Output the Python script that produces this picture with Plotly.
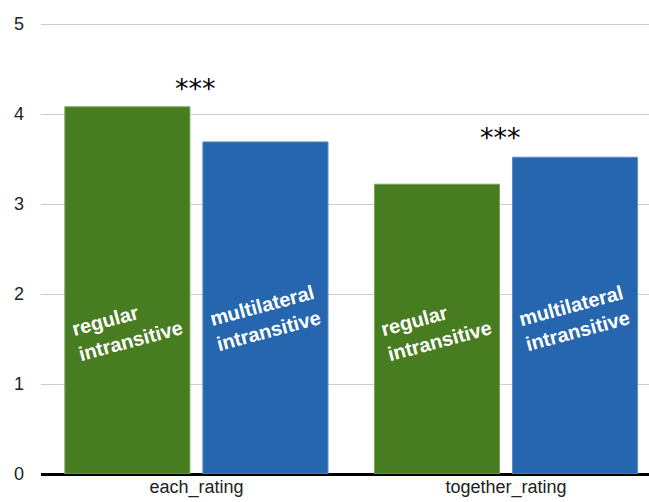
import plotly.graph_objects as go

categories = ["each_rating", "together_rating"]
regular_values = [4.08, 3.22]
multilateral_values = [3.69, 3.52]
series_labels = ["regular<br>intransitive", "multilateral<br>intransitive"]
label_y = [1.62, 1.73]
significance = ["***", "***"]
sig_y = [4.28, 3.74]
y_ticks = [0, 1, 2, 3, 4, 5]

green = "#487c20"
blue = "#2566ae"
FONT = "Liberation Sans, Arial"

fig = go.Figure()
fig.add_trace(go.Bar(x=categories, y=regular_values,
                     marker=dict(color=green, line=dict(color="#7fa25f", width=1)), offsetgroup=0))
fig.add_trace(go.Bar(x=categories, y=multilateral_values,
                     marker=dict(color=blue, line=dict(color="#5d8cc4", width=1)), offsetgroup=1))

annotations = []
for i, c in enumerate(categories):
    for j, lab in enumerate(series_labels):
        annotations.append(dict(
            x=c, y=label_y[j], xref="x", yref="y",
            xshift=-69 if j == 0 else 69,
            text="<b>" + lab + "</b>", showarrow=False, textangle=-15,
            font=dict(family=FONT, size=20, color="white"),
            align="left"))
    annotations.append(dict(
        x=c, y=sig_y[i], xref="x", yref="y", text=significance[i], showarrow=False,
        xshift=-1 if i == 0 else -5,
        font=dict(family="DejaVu Sans", size=27, color="black")))

fig.update_layout(
    width=649, height=502,
    margin=dict(l=41, r=0, t=0, b=28),
    paper_bgcolor="white", plot_bgcolor="white",
    showlegend=False,
    barmode="group", bargap=0.108, bargroupgap=0.094,
    annotations=annotations,
    font=dict(family=FONT, size=18, color="#222222"),
)
fig.update_xaxes(range=[-0.502, 1.462], showgrid=False, showline=False, ticks="",
                 tickfont=dict(size=18, color="#222222"))
fig.update_yaxes(range=[0, 5.267], tickvals=y_ticks, showgrid=True, gridcolor="#cccccc", gridwidth=1,
                 zeroline=True, zerolinecolor="black", zerolinewidth=3,
                 ticks="", ticklabelstandoff=16, tickfont=dict(size=18, color="#222222"))

fig.write_html("out.html", config={"displayModeBar": False},
               post_script="document.body.style.margin='0';document.body.style.overflow='hidden';")
